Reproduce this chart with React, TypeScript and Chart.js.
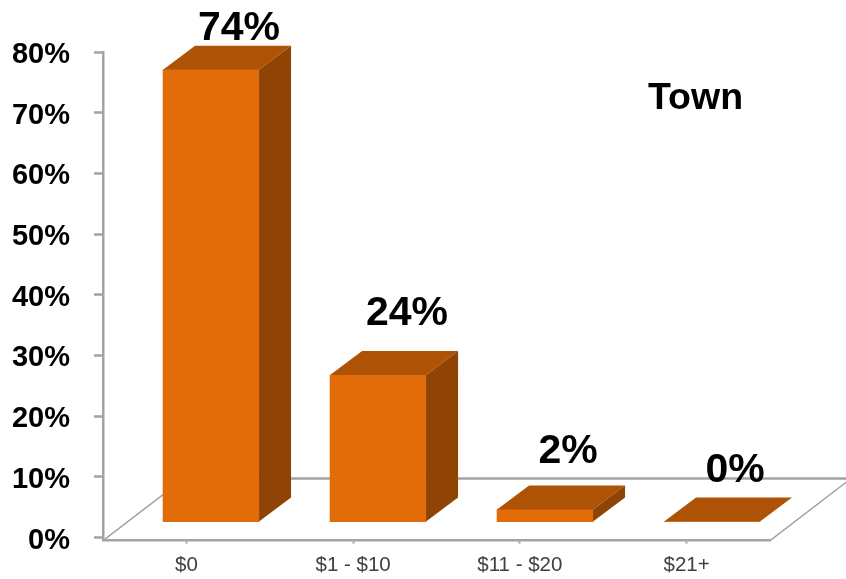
import React, { useEffect, useRef } from "react";
import { Chart, registerables } from "chart.js";

Chart.register(...registerables);

const categories = ["$0", "$1 - $10", "$11 - $20", "$21+"];
const shares = [74, 24, 2, 0];
const yTicks = [0, 10, 20, 30, 40, 50, 60, 70, 80];
const chartLabel = "Town";

const FONT = '"Liberation Sans", Arial, sans-serif';
const FRONT = "#E36C0A";
const TOP = "#AE5306";
const SIDE = "#8F4304";
const AXIS = "#A3A3A3";
const DX = 32;
const DY = 24;
const labelLift = [41, 61, 58, 51];
const labelShift = [28, 29, 23, 23];

const depth3d = {
  id: "depth3d",
  beforeDatasetsDraw(chart: any) {
    const { ctx, chartArea: a } = chart;
    const backY = a.bottom - 62;
    ctx.save();
    ctx.strokeStyle = AXIS;
    ctx.lineWidth = 2.5;
    ctx.beginPath();
    ctx.moveTo(a.left + 81, backY);
    ctx.lineTo(846, backY);
    ctx.stroke();
    ctx.lineWidth = 1.5;
    ctx.beginPath();
    ctx.moveTo(a.left, a.bottom);
    ctx.lineTo(a.left + 81, backY);
    ctx.moveTo(a.right, a.bottom);
    ctx.lineTo(a.right + 81, backY);
    ctx.stroke();
    ctx.restore();
  },
  afterDatasetsDraw(chart: any) {
    const { ctx } = chart;
    const bars = chart.getDatasetMeta(0).data;
    ctx.save();
    bars.forEach((bar: any, i: number) => {
      const half = bar.width / 2;
      const l = bar.x - half;
      const r = bar.x + half;
      const t = bar.y;
      const b = bar.base;
      ctx.fillStyle = TOP;
      ctx.beginPath();
      ctx.moveTo(l, t);
      ctx.lineTo(r, t);
      ctx.lineTo(r + DX, t - DY);
      ctx.lineTo(l + DX, t - DY);
      ctx.closePath();
      ctx.fill();
      if (b - t > 0.5) {
        ctx.fillStyle = SIDE;
        ctx.beginPath();
        ctx.moveTo(r, t);
        ctx.lineTo(r + DX, t - DY);
        ctx.lineTo(r + DX, b - DY);
        ctx.lineTo(r, b);
        ctx.closePath();
        ctx.fill();
      }
      ctx.fillStyle = "#000000";
      ctx.font = `bold 41px ${FONT}`;
      ctx.textAlign = "center";
      ctx.textBaseline = "middle";
      ctx.fillText(`${shares[i]}%`, bar.x + labelShift[i], t - labelLift[i]);
    });
    ctx.fillStyle = "#000000";
    ctx.font = `bold 37.5px ${FONT}`;
    ctx.textAlign = "left";
    ctx.textBaseline = "middle";
    ctx.fillText(chartLabel, 648, 99);
    ctx.restore();
  },
};

export default function App() {
  const ref = useRef<HTMLCanvasElement>(null);
  useEffect(() => {
    const chart = new Chart(ref.current as HTMLCanvasElement, {
      type: "bar",
      data: {
        labels: categories,
        datasets: [
          {
            data: shares.map((v, i) => ({ x: i, y: v })),
            backgroundColor: FRONT,
            borderWidth: 0,
            barThickness: 96,
            xAxisID: "x2",
            yAxisID: "y2",
            clip: false,
          } as any,
        ],
      },
      options: {
        responsive: false,
        animation: false,
        layout: { padding: { top: 52, right: 76, left: 0, bottom: 0 } },
        plugins: { legend: { display: false }, tooltip: { enabled: false }, title: { display: false } },
        scales: {
          x: {
            type: "category",
            labels: categories,
            position: "bottom",
            afterFit(s: any) {
              s.height = 36;
            },
            border: { color: AXIS, width: 2.5 },
            grid: { drawOnChartArea: false, offset: false, tickLength: 3, tickColor: AXIS, tickWidth: 2 },
            ticks: { color: "#404040", font: { family: FONT, size: 20.5 }, padding: 9, maxRotation: 0 },
          },
          y: {
            type: "linear",
            position: "left",
            min: -0.5,
            max: 80,
            afterBuildTicks(s: any) {
              s.ticks = yTicks.map((value) => ({ value }));
            },
            afterFit(s: any) {
              s.width = 103;
            },
            border: { color: AXIS, width: 2.5 },
            grid: { drawOnChartArea: false, tickLength: 9, tickColor: AXIS, tickWidth: 2.5 },
            ticks: {
              color: "#000000",
              font: { family: FONT, size: 29, weight: "bold" },
              padding: 24,
              labelOffset: 3,
              callback: (v: any) => `${v}%`,
            },
          },
          x2: { type: "linear", display: false, offset: false, min: -0.647, max: 3.347 },
          y2: { type: "linear", display: false, min: -3.11, max: 76.89, grid: { display: false } },
        },
      } as any,
      plugins: [depth3d],
    });
    return () => chart.destroy();
  }, []);
  return (
    <div style={{ position: "fixed", left: 0, top: 0, width: 846, height: 579, overflow: "hidden", background: "#fff" }}>
      <canvas ref={ref} width={846} height={582} style={{ display: "block" }} />
    </div>
  );
}
